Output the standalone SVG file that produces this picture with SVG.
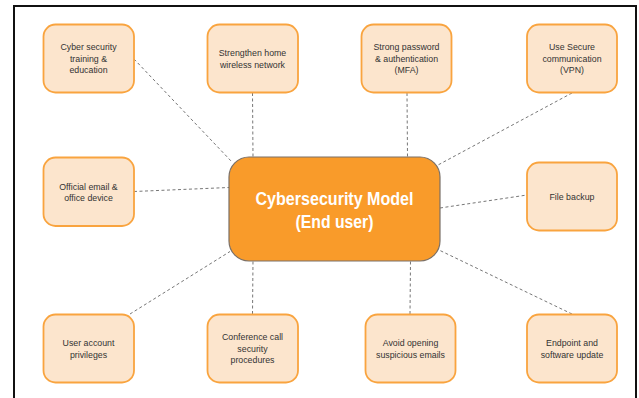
<svg xmlns="http://www.w3.org/2000/svg" width="639" height="398" viewBox="0 0 639 398">
<style>
.frame{fill:#fff;stroke:#111;stroke-width:2}
.node rect{fill:#FCE5CD;stroke:#F9A43F;stroke-width:1.8}
.node text{font-family:"Liberation Sans",Arial,sans-serif;font-size:8.8px;fill:#333;text-anchor:middle}
.hub rect{fill:#F99B2A;stroke:#7a7068;stroke-width:1.2}
.hub text{font-family:"Liberation Sans",Arial,sans-serif;font-size:18px;font-weight:bold;fill:#fff;text-anchor:middle}
#connectors line{stroke:#777;stroke-width:1;stroke-dasharray:3 2.5;fill:none}
</style>
<rect class="frame" x="14" y="6" width="622" height="400"/>
<g id="connectors">
<line x1="134" y1="59" x2="232" y2="162"/>
<line x1="252.5" y1="93" x2="253" y2="157"/>
<line x1="407" y1="93" x2="407.5" y2="157"/>
<line x1="572" y1="93" x2="438" y2="165"/>
<line x1="134" y1="191.5" x2="229" y2="187.5"/>
<line x1="440" y1="208" x2="527" y2="195"/>
<line x1="130" y1="314" x2="230" y2="251.5"/>
<line x1="252.5" y1="314" x2="253" y2="261"/>
<line x1="410" y1="314" x2="410.5" y2="261"/>
<line x1="572" y1="314" x2="440" y2="250.5"/>
</g>
<g id="hub" class="hub">
<rect x="229" y="157" width="211" height="104" rx="20"/>
<text x="334.5" y="205" textLength="158" lengthAdjust="spacingAndGlyphs">Cybersecurity Model</text>
<text x="334.5" y="227.5" textLength="78" lengthAdjust="spacingAndGlyphs">(End user)</text>
</g>
<g id="n1" class="node">
<rect x="43.5" y="24.5" width="90.5" height="68" rx="12"/>
<text x="88.5" y="50">Cyber security</text>
<text x="88.5" y="61.5">training &amp;</text>
<text x="88.5" y="73">education</text>
</g>
<g id="n2" class="node">
<rect x="207.5" y="24.5" width="90.5" height="68" rx="12"/>
<text x="252.5" y="56">Strengthen home</text>
<text x="252.5" y="67.5">wireless network</text>
</g>
<g id="n3" class="node">
<rect x="361.5" y="24.5" width="90" height="68" rx="12"/>
<text x="406.5" y="50">Strong password</text>
<text x="406.5" y="61.5">&amp; authentication</text>
<text x="406.5" y="73">(MFA)</text>
</g>
<g id="n4" class="node">
<rect x="527" y="24.5" width="90" height="68" rx="12"/>
<text x="572" y="50">Use Secure</text>
<text x="572" y="61.5">communication</text>
<text x="572" y="73">(VPN)</text>
</g>
<g id="n5" class="node">
<rect x="43.5" y="157.5" width="90.5" height="68.5" rx="12"/>
<text x="88.5" y="189.5">Official email &amp;</text>
<text x="88.5" y="201">office device</text>
</g>
<g id="n6" class="node">
<rect x="527" y="162.5" width="90" height="68" rx="12"/>
<text x="572" y="200">File backup</text>
</g>
<g id="n7" class="node">
<rect x="43.5" y="314.5" width="90.5" height="68" rx="12"/>
<text x="88.5" y="346">User account</text>
<text x="88.5" y="357.5">privileges</text>
</g>
<g id="n8" class="node">
<rect x="207.5" y="314.5" width="90.5" height="68" rx="12"/>
<text x="252.5" y="340">Conference call</text>
<text x="252.5" y="351.5">security</text>
<text x="252.5" y="363">procedures</text>
</g>
<g id="n9" class="node">
<rect x="365.5" y="314.5" width="90" height="68" rx="12"/>
<text x="410.5" y="346">Avoid opening</text>
<text x="410.5" y="357.5">suspicious emails</text>
</g>
<g id="n10" class="node">
<rect x="527" y="314.5" width="90" height="68" rx="12"/>
<text x="572" y="346">Endpoint and</text>
<text x="572" y="357.5">software update</text>
</g>
</svg>
